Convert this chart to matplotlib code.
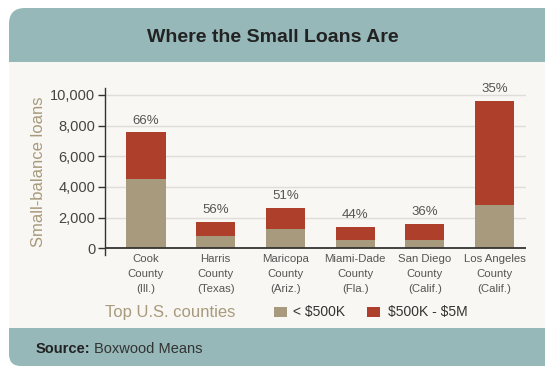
import matplotlib
matplotlib.use("Agg")
import matplotlib.pyplot as plt
from matplotlib.patches import FancyBboxPatch, Rectangle
from matplotlib import font_manager
import numpy as np

counties = ["Cook\nCounty\n(Ill.)", "Harris\nCounty\n(Texas)", "Maricopa\nCounty\n(Ariz.)",
            "Miami-Dade\nCounty\n(Fla.)", "San Diego\nCounty\n(Calif.)", "Los Angeles\nCounty\n(Calif.)"]
under_500k = [4520, 800, 1260, 540, 540, 2825]
from_500k_5m = [3050, 915, 1370, 850, 1045, 6785]
pct_labels = ["66%", "56%", "51%", "44%", "36%", "35%"]
yticks = [0, 2000, 4000, 6000, 8000, 10000]

TAN = "#a89a7c"
RED = "#ae3f2b"
TEAL = "#96b8b8"
PANEL = "#f8f7f3"
avail = {f.name for f in font_manager.fontManager.ttflist}
FONT = [f for f in ["Liberation Sans Narrow", "Liberation Sans", "DejaVu Sans"] if f in avail]
plt.rcParams["text.parse_math"] = False

W, H = 545, 366
fig = plt.figure(figsize=(W / 100, H / 100), dpi=100)
fig.patch.set_facecolor("white")

bg = fig.add_axes([0, 0, 1, 1])
bg.set_xlim(0, W)
bg.set_ylim(H, 0)
bg.axis("off")
bg.set_zorder(0)
bg.add_patch(FancyBboxPatch((9, 8), 600, 100, boxstyle="round,pad=0,rounding_size=16",
                            facecolor=TEAL, edgecolor="none", zorder=0))
bg.add_patch(FancyBboxPatch((9, 250), 600, 116, boxstyle="round,pad=0,rounding_size=12",
                            facecolor=TEAL, edgecolor="none", zorder=0))
bg.add_patch(Rectangle((9, 62), 600, 266, facecolor=PANEL, edgecolor="none", zorder=1))

bg.text(273, 37, "Where the Small Loans Are", ha="center", va="center",
        fontsize=14, fontweight="bold", color="#222222", family=FONT)

# legend row
bg.text(105, 312, "Top U.S. counties", ha="left", va="center", fontsize=12,
        color=TAN, family=FONT)
bg.add_patch(Rectangle((274, 306.5), 13, 10.5, facecolor=TAN, edgecolor="none", zorder=3))
bg.text(293, 312, "< $500K", ha="left", va="center", fontsize=10, color="#333333", family=FONT)
bg.add_patch(Rectangle((367, 306.5), 13, 10.5, facecolor=RED, edgecolor="none", zorder=3))
bg.text(388, 312, "$500K - $5M", ha="left", va="center", fontsize=10, color="#333333", family=FONT)

t1 = bg.text(36, 349, "Source:", ha="left", va="center", fontsize=10.5,
             fontweight="bold", color="#222222", family=FONT)
fig.canvas.draw()
bb = t1.get_window_extent()
bg.text(bb.x1 + 3, 349, "Boxwood Means", ha="left", va="center", fontsize=10.5,
        color="#333333", family=FONT)

ax = fig.add_axes([105 / W, 1 - 255.2 / H, 421 / W, (255.2 - 88.1) / H])
ax.set_facecolor("none")
ax.set_zorder(2)
x = np.arange(len(counties))
ax.bar(x, under_500k, width=0.56, color=TAN, zorder=3)
ax.bar(x, from_500k_5m, width=0.56, bottom=under_500k, color=RED, zorder=3)
tot = np.array(under_500k) + np.array(from_500k_5m)
for xi, t, lab in zip(x, tot, pct_labels):
    ax.annotate(lab, (xi, t), xytext=(0, 4), textcoords="offset points", ha="center", va="bottom",
                fontsize=9.5, color="#555555", family=FONT)

ax.set_xlim(-0.588, 5.452)
ax.set_ylim(-450, 10450)
for s in ["top", "right", "bottom"]:
    ax.spines[s].set_visible(False)
ax.spines["left"].set_color("#333333")
ax.spines["left"].set_linewidth(1.0)
ax.axhline(0, color="#333333", lw=1.3, zorder=4)
for yv in yticks[1:]:
    ax.axhline(yv, color="#e0ddd8", lw=1.0, zorder=1)
ax.set_yticks(yticks)
ax.set_yticklabels([f"{v:,}" for v in yticks], fontsize=10.5, color="#444444", family=FONT)
ax.tick_params(axis="y", length=5, width=1, color="#333333", pad=2)
ax.set_xticks(x)
ax.set_xticklabels(counties, fontsize=8.2, color="#555555", family=FONT, linespacing=1.62)
ax.tick_params(axis="x", length=0, pad=-1)
ax.set_ylabel("Small-balance loans", fontsize=12, color=TAN, family=FONT, labelpad=3)

fig.savefig("out.png", dpi=100, facecolor="white")
